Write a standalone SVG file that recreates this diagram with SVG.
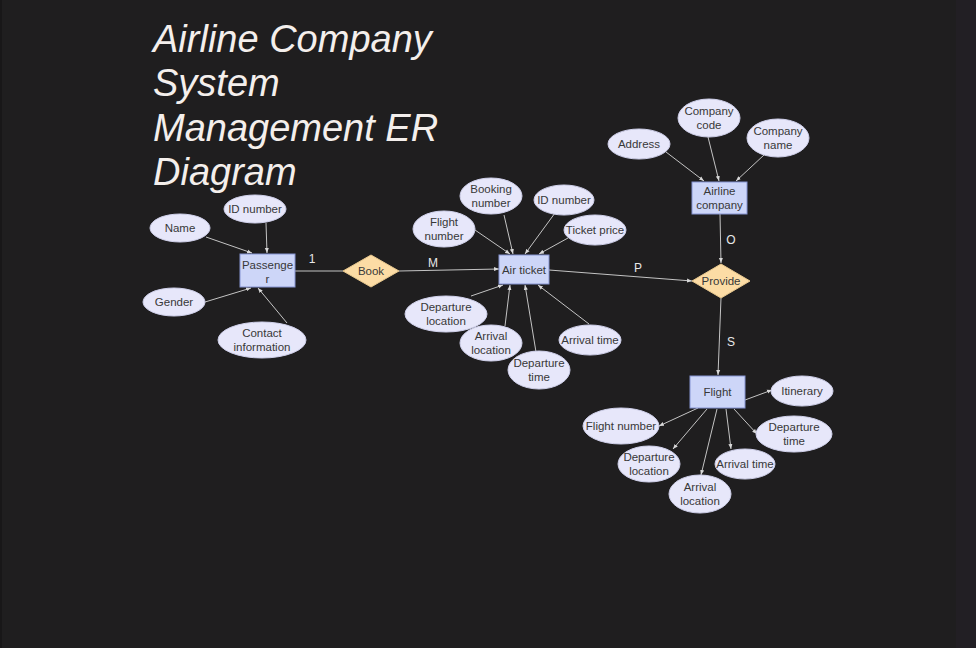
<svg xmlns="http://www.w3.org/2000/svg" width="976" height="648" viewBox="0 0 976 648">
<defs>
<marker id="arr" viewBox="0 0 10 10" refX="10" refY="5" markerWidth="5" markerHeight="5" orient="auto-start-reverse" markerUnits="userSpaceOnUse">
<path d="M0,1 L10,5 L0,9 z" fill="#d8d8d8"/>
</marker>
<style>
.bg{fill:#1f1e1f}
.title{font-family:"Liberation Sans",Arial,sans-serif;font-style:italic;font-size:38px;fill:#f4efec}
.ent{fill:#cdd6f8;stroke:#8593d2;stroke-width:1}
.rel{fill:#fcdca5;stroke:#e8c88e;stroke-width:1}
.att{fill:#e7e7fa;stroke:#cfd0ea;stroke-width:1}
.t{font-family:"Liberation Sans",Arial,sans-serif;font-size:11.5px;fill:#383838;text-anchor:middle}
.lbl{font-family:"Liberation Sans",Arial,sans-serif;font-size:12px;fill:#e8e8e8;text-anchor:middle}
.ln{stroke:#c4c4c4;stroke-width:1;fill:none}
.la{stroke:#c4c4c4;stroke-width:1;fill:none;marker-end:url(#arr)}
</style>
</defs>
<rect class="bg" x="0" y="0" width="976" height="648"/>
<rect x="0" y="0" width="2" height="648" fill="#181718"/>
<rect x="956" y="0" width="20" height="648" fill="#221f24"/>
<g id="title">
<text class="title" x="153" y="52">Airline Company</text>
<text class="title" x="153" y="96">System</text>
<text class="title" x="153" y="141">Management ER</text>
<text class="title" x="153" y="185">Diagram</text>
</g>
<g id="connectors">
<line class="la" x1="206" y1="237" x2="252" y2="253"/>
<line class="la" x1="266" y1="223" x2="267" y2="253"/>
<line class="la" x1="205" y1="302" x2="251" y2="288"/>
<line class="la" x1="287" y1="323" x2="258" y2="288"/>
<line class="ln" x1="295" y1="271" x2="343" y2="271"/>
<line class="la" x1="399" y1="271" x2="499" y2="269"/>
<line class="la" x1="475" y1="230" x2="510" y2="254"/>
<line class="la" x1="504" y1="215" x2="513" y2="254"/>
<line class="la" x1="555" y1="213" x2="525" y2="254"/>
<line class="la" x1="568" y1="238" x2="539" y2="254"/>
<line class="la" x1="471" y1="296" x2="503" y2="285"/>
<line class="la" x1="505" y1="326" x2="510" y2="285"/>
<line class="la" x1="536" y1="352" x2="525" y2="285"/>
<line class="la" x1="589" y1="324" x2="538" y2="285"/>
<line class="la" x1="549" y1="270" x2="692" y2="281"/>
<line class="la" x1="666" y1="152" x2="704" y2="181"/>
<line class="la" x1="708" y1="137" x2="719" y2="181"/>
<line class="la" x1="764" y1="155" x2="736" y2="181"/>
<line class="la" x1="720" y1="214" x2="721" y2="263"/>
<line class="la" x1="721" y1="298" x2="718" y2="375"/>
<line class="la" x1="745" y1="400" x2="772" y2="390"/>
<line class="la" x1="698" y1="408" x2="659" y2="426"/>
<line class="la" x1="707" y1="409" x2="673" y2="449"/>
<line class="la" x1="717" y1="409" x2="701" y2="475"/>
<line class="la" x1="726" y1="409" x2="731" y2="449"/>
<line class="la" x1="734" y1="409" x2="757" y2="434"/>
<text class="lbl" x="312" y="263">1</text>
<text class="lbl" x="433" y="267">M</text>
<text class="lbl" x="638" y="272">P</text>
<text class="lbl" x="731" y="244">O</text>
<text class="lbl" x="731" y="346">S</text>
</g>
<g id="passenger">
<rect class="ent" x="240" y="254" width="55" height="33"/>
<text class="t" x="267.5" y="269">Passenge</text>
<text class="t" x="267.5" y="283">r</text>
</g>
<g id="p-name"><ellipse class="att" cx="180" cy="228" rx="30" ry="14"/><text class="t" x="180" y="232">Name</text></g>
<g id="p-id"><ellipse class="att" cx="255" cy="209" rx="31" ry="14"/><text class="t" x="255" y="213">ID number</text></g>
<g id="p-gender"><ellipse class="att" cx="174" cy="302" rx="31" ry="14"/><text class="t" x="174" y="306">Gender</text></g>
<g id="p-contact"><ellipse class="att" cx="262" cy="340" rx="44" ry="18"/><text class="t" x="262" y="337">Contact</text><text class="t" x="262" y="351">information</text></g>
<g id="book">
<polygon class="rel" points="343,271 371,255 399,271 371,287"/>
<text class="t" x="371" y="275">Book</text>
</g>
<g id="airticket">
<rect class="ent" x="499" y="255" width="50" height="29"/>
<text class="t" x="524" y="274">Air ticket</text>
</g>
<g id="a-booking"><ellipse class="att" cx="491" cy="196" rx="31" ry="18"/><text class="t" x="491" y="193">Booking</text><text class="t" x="491" y="207">number</text></g>
<g id="a-id"><ellipse class="att" cx="564" cy="200" rx="30" ry="15"/><text class="t" x="564" y="204">ID number</text></g>
<g id="a-flight"><ellipse class="att" cx="444" cy="229" rx="31" ry="18"/><text class="t" x="444" y="226">Flight</text><text class="t" x="444" y="240">number</text></g>
<g id="a-price"><ellipse class="att" cx="595" cy="230" rx="31" ry="15"/><text class="t" x="595" y="234">Ticket price</text></g>
<g id="a-deploc"><ellipse class="att" cx="446" cy="314" rx="41" ry="18"/><text class="t" x="446" y="311">Departure</text><text class="t" x="446" y="325">location</text></g>
<g id="a-arrloc"><ellipse class="att" cx="491" cy="343" rx="31" ry="18"/><text class="t" x="491" y="340">Arrival</text><text class="t" x="491" y="354">location</text></g>
<g id="a-deptime"><ellipse class="att" cx="539" cy="370" rx="31" ry="19"/><text class="t" x="539" y="367">Departure</text><text class="t" x="539" y="381">time</text></g>
<g id="a-arrtime"><ellipse class="att" cx="590" cy="340" rx="31" ry="15"/><text class="t" x="590" y="344">Arrival time</text></g>
<g id="airline">
<rect class="ent" x="692" y="182" width="55" height="32"/>
<text class="t" x="719.5" y="195">Airline</text>
<text class="t" x="719.5" y="209">company</text>
</g>
<g id="c-address"><ellipse class="att" cx="639" cy="144" rx="31" ry="15"/><text class="t" x="639" y="148">Address</text></g>
<g id="c-code"><ellipse class="att" cx="709" cy="118" rx="31" ry="19"/><text class="t" x="709" y="115">Company</text><text class="t" x="709" y="129">code</text></g>
<g id="c-name"><ellipse class="att" cx="778" cy="138" rx="31" ry="19"/><text class="t" x="778" y="135">Company</text><text class="t" x="778" y="149">name</text></g>
<g id="provide">
<polygon class="rel" points="692,281 721,264 750,281 721,298"/>
<text class="t" x="721" y="285">Provide</text>
</g>
<g id="flight">
<rect class="ent" x="690" y="376" width="55" height="32"/>
<text class="t" x="717.5" y="396">Flight</text>
</g>
<g id="f-itin"><ellipse class="att" cx="802" cy="391" rx="31" ry="15"/><text class="t" x="802" y="395">Itinerary</text></g>
<g id="f-num"><ellipse class="att" cx="621" cy="426" rx="38" ry="18"/><text class="t" x="621" y="430">Flight number</text></g>
<g id="f-deptime"><ellipse class="att" cx="794" cy="434" rx="38" ry="18"/><text class="t" x="794" y="431">Departure</text><text class="t" x="794" y="445">time</text></g>
<g id="f-deploc"><ellipse class="att" cx="649" cy="464" rx="31" ry="18"/><text class="t" x="649" y="461">Departure</text><text class="t" x="649" y="475">location</text></g>
<g id="f-arrtime"><ellipse class="att" cx="745" cy="464" rx="30" ry="15"/><text class="t" x="745" y="468">Arrival time</text></g>
<g id="f-arrloc"><ellipse class="att" cx="700" cy="494" rx="31" ry="19"/><text class="t" x="700" y="491">Arrival</text><text class="t" x="700" y="505">location</text></g>
</svg>
